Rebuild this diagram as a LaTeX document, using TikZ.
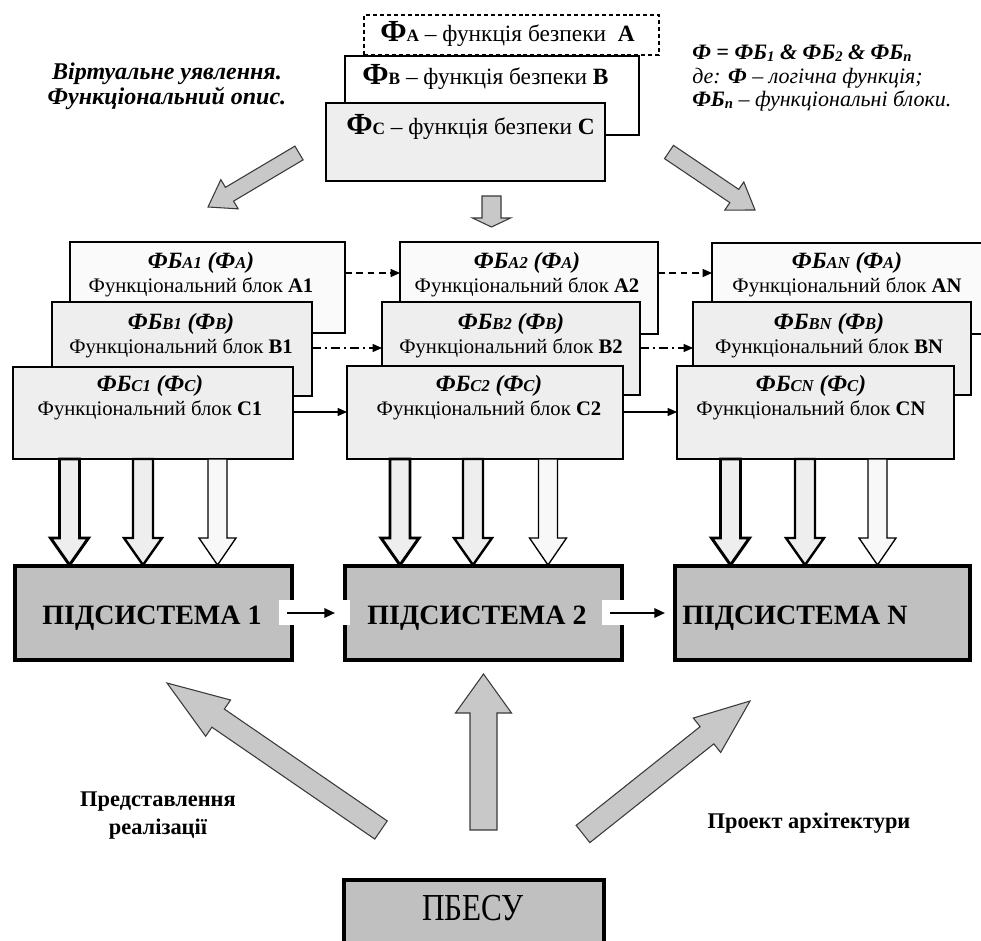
\documentclass[tikz,border=0pt]{standalone}
\usepackage{fontspec}
\setmainfont{Liberation Serif}
\usetikzlibrary{fit,arrows.meta}
\definecolor{boxgray}{HTML}{EEEEEE}
\definecolor{boxwhite}{HTML}{FAFAFA}
\definecolor{subgray}{HTML}{C0C0C0}
\definecolor{arrgray}{HTML}{C8C8C8}
\definecolor{arrline}{HTML}{3A3A3A}
\definecolor{thinfill}{HTML}{F8F8F8}

% block arrow: x1 y1 x2 y2 shaft-half head-half head-length style
\newcommand{\blockarrow}[8]{%
  \pgfmathsetmacro\bxl{veclen(#3-#1,#4-#2)}%
  \pgfmathsetmacro\bxa{atan2(#2-#4,#3-#1)}%
  \begin{scope}[shift={(#1,#2)},rotate=\bxa]
    \draw[#8] (0,-#5) -- ({\bxl-#7},-#5) -- ({\bxl-#7},-#6) -- (\bxl,0)
      -- ({\bxl-#7},#6) -- ({\bxl-#7},#5) -- (0,#5) -- cycle;
  \end{scope}}

\newcommand{\Fbig}[1]{{\fontsize{23}{23}\selectfont\bfseries Ф}{\fontsize{13}{13}\selectfont\bfseries #1}}
\newcommand{\FBtitle}[2]{{\fontsize{17.5}{18}\selectfont\bfseries\itshape ФБ{\fontsize{12.5}{12.5}\selectfont #1} (Ф{\fontsize{12.5}{12.5}\selectfont #2})}}
\newcommand{\lowsub}[1]{\raisebox{-1.2pt}{\fontsize{11}{11}\selectfont #1}}

\begin{document}
\begin{tikzpicture}[x=0.75pt,y=-0.75pt,
  bx/.style={inner sep=0,outer sep=0},
  topA/.style={bx,draw,line width=0.9pt,dash pattern=on 3pt off 2.2pt,fill=white},
  topB/.style={bx,draw,line width=2pt,fill=white},
  topC/.style={bx,draw,line width=1.2pt,fill=boxgray},
  toptext/.style={anchor=west,inner sep=0,font=\fontsize{17.5}{20}\selectfont},
  blkA/.style={bx,draw,line width=1.2pt,fill=boxwhite},
  blkB/.style={bx,draw,line width=1.3pt,fill=boxgray},
  blkC/.style={bx,draw,line width=1.3pt,fill=boxgray},
  blktext/.style={align=center,inner sep=0,font=\fontsize{15.5}{18}\selectfont},
  arrA/.style={line width=0.9pt,dash pattern=on 5pt off 3.5pt,-{Triangle[length=7pt,width=6pt]}},
  arrB/.style={line width=0.9pt,dash pattern=on 7pt off 3pt on 1.2pt off 3pt,-{Triangle[length=7pt,width=6pt]}},
  arrC/.style={line width=0.9pt,-{Triangle[length=7pt,width=6pt]}},
  sub/.style={bx,draw,line width=2.4pt,fill=subgray},
  subtext/.style={inner sep=0,font=\fontsize{21}{24}\selectfont\bfseries},
  subarr/.style={line width=1.6pt,-{Triangle[length=8pt,width=7pt]}},
  grayarr/.style={fill=arrgray,draw=arrline,line width=0.8pt,line join=miter},
  downthick/.style={fill=boxgray,draw=black,line width=2.2pt,line join=miter},
  downmid/.style={fill=boxgray,draw=black,line width=1.8pt,line join=miter},
  downthin/.style={fill=thinfill,draw=black,line width=1pt,line join=miter},
  label/.style={inner sep=0,font=\fontsize{16.8}{21}\selectfont\bfseries,align=center},
  ftext/.style={anchor=west,inner sep=0,font=\fontsize{16.5}{17}\selectfont\itshape}
]
\useasboundingbox (0,0) rectangle (981,941);
\clip (0,0) rectangle (981,941);

% ---- top function boxes
\node[topA,fit={(364,15)(659,55)}] (FA) {};
\node[topB,fit={(345,56)(639,135)}] (FB) {};
\node[topC,fit={(326,103)(605,181)}] (FC) {};
\node[toptext] (tFA) at (380,34) {\Fbig{A} – функція безпеки \ \textbf{A}};
\node[toptext] (tFB) at (362,77) {\Fbig{B} – функція безпеки \textbf{B}};
\node[toptext] (tFC) at (346,127) {\Fbig{C} – функція безпеки \textbf{C}};

% ---- top texts
\node[inner sep=0,align=center,font=\fontsize{18}{19}\selectfont\bfseries\itshape] (virt) at (167,86)
  {Віртуальне уявлення.\\Функціональний опис.};
\node[ftext,font=\fontsize{16.5}{17}\selectfont\bfseries\itshape] (f1) at (692,53)
  {Ф = ФБ\lowsub{1} \& ФБ\lowsub{2} \& ФБ\lowsub{n}};
\node[ftext] (f2) at (692,78)
  {де: \textbf{Ф} – логічна функція;};
\node[ftext] (f3) at (692,101)
  {\textbf{ФБ\lowsub{n}} – функціональні блоки.};

% ---- top gray arrows
\blockarrow{299}{153}{208}{207}{8}{17}{25}{grayarr}
\blockarrow{491.5}{196}{491.5}{227}{9.5}{19}{9}{grayarr}
\blockarrow{669}{152}{755}{210}{8}{17}{25}{grayarr}

% ---- row A
\node[blkA,fit={(70,242)(345,333)}] (A1) {};
\node[blkA,fit={(400,242)(658,334)}] (A2) {};
\node[blkA,fit={(712,243)(1000,334)}] (AN) {};
\node[blktext] (tA1) at (201,275) {\FBtitle{A1}{A}\\Функціональний блок \textbf{A1}};
\node[blktext] (tA2) at (527,275) {\FBtitle{A2}{A}\\Функціональний блок \textbf{A2}};
\node[blktext] (tAN) at (847,275) {\FBtitle{AN}{A}\\Функціональний блок \textbf{AN}};
\coordinate (yA) at (0,273);
\draw[arrA] (A1.east |- yA) -- (A2.west |- yA);
\draw[arrA] (A2.east |- yA) -- (AN.west |- yA);

% ---- row B
\node[blkB,fit={(52,302)(312,396)}] (B1) {};
\node[blkB,fit={(382,302)(640,395)}] (B2) {};
\node[blkB,fit={(693,302)(971,395)}] (BN) {};
\node[blktext] (tB1) at (181,336) {\FBtitle{B1}{B}\\Функціональний блок \textbf{B1}};
\node[blktext] (tB2) at (511,336) {\FBtitle{B2}{B}\\Функціональний блок \textbf{B2}};
\node[blktext] (tBN) at (829,336) {\FBtitle{BN}{B}\\Функціональний блок \textbf{BN}};
\coordinate (yB) at (0,348);
\draw[arrB] (B1.east |- yB) -- (B2.west |- yB);
\draw[arrB] (B2.east |- yB) -- (BN.west |- yB);

% ---- row C
\node[blkC,fit={(13,367)(293,459)}] (C1) {};
\node[blkC,fit={(347,366)(623,459)}] (C2) {};
\node[blkC,fit={(677,366)(954,459)}] (CN) {};
\node[blktext] (tC1) at (150,398) {\FBtitle{C1}{C}\\Функціональний блок \textbf{C1}};
\node[blktext] (tC2) at (489,398) {\FBtitle{C2}{C}\\Функціональний блок \textbf{C2}};
\node[blktext] (tCN) at (811,398) {\FBtitle{CN}{C}\\Функціональний блок \textbf{CN}};
\coordinate (yC) at (0,412);
\draw[arrC] (C1.east |- yC) -- (C2.west |- yC);
\draw[arrC] (C2.east |- yC) -- (CN.west |- yC);

% ---- down block arrows
\blockarrow{69.5}{459}{69.5}{565}{10}{19}{27}{downthick}
\blockarrow{143}{459}{143}{565}{10}{19}{27}{downmid}
\blockarrow{217.5}{459}{217.5}{565}{9.5}{18.5}{27}{downthin}
\blockarrow{400}{459}{400}{565}{10}{19}{27}{downthick}
\blockarrow{473}{459}{473}{565}{10}{19}{27}{downmid}
\blockarrow{548}{459}{548}{565}{9.5}{18.5}{27}{downthin}
\blockarrow{730.5}{459}{730.5}{565}{10}{19}{27}{downthick}
\blockarrow{805}{459}{805}{565}{10}{19}{27}{downmid}
\blockarrow{877.5}{459}{877.5}{565}{9.5}{18.5}{27}{downthin}

% ---- subsystems
\node[sub,fit={(15,566)(292,660)}] (S1) {};
\node[sub,fit={(345,566)(622,660)}] (S2) {};
\node[sub,fit={(675,566)(970,660)}] (SN) {};
\fill[white] (279,600) rectangle (297,625);
\fill[white] (341,600) rectangle (350,625);
\fill[white] (602,600) rectangle (627,625);
\node[subtext] (tS1) at (152,618) {ПІДСИСТЕМА 1};
\node[subtext] (tS2) at (477,618) {ПІДСИСТЕМА 2};
\node[subtext,anchor=west] (tSN) at (682,618) {ПІДСИСТЕМА N};
\coordinate (yS) at (0,613);
\draw[subarr] ([xshift=-3.75pt]S1.east |- yS) -- ([xshift=-7.5pt]S2.west |- yS);
\draw[subarr] ([xshift=-9pt]S2.east |- yS) -- ([xshift=-7.5pt]SN.west |- yS);

% ---- bottom gray arrows
\blockarrow{381}{830}{167}{683}{11}{22}{62}{grayarr}
\blockarrow{483.5}{830}{483.5}{674}{13.5}{28}{39}{grayarr}
\blockarrow{583}{834}{750}{701}{11}{22}{55}{grayarr}

% ---- bottom labels and PBESU
\node[label] (lrep) at (158,816) {Представлення\\реалізації};
\node[label] (larch) at (809,823) {Проект архітектури};
\node[sub,fit={(344,880)(604,960)}] (PB) {};
\node[inner sep=0,font=\fontsize{26}{26}\selectfont] (tPB) at (473,908) {\scalebox{0.9}[1.1]{ПБЕСУ}};
\end{tikzpicture}
\end{document}
